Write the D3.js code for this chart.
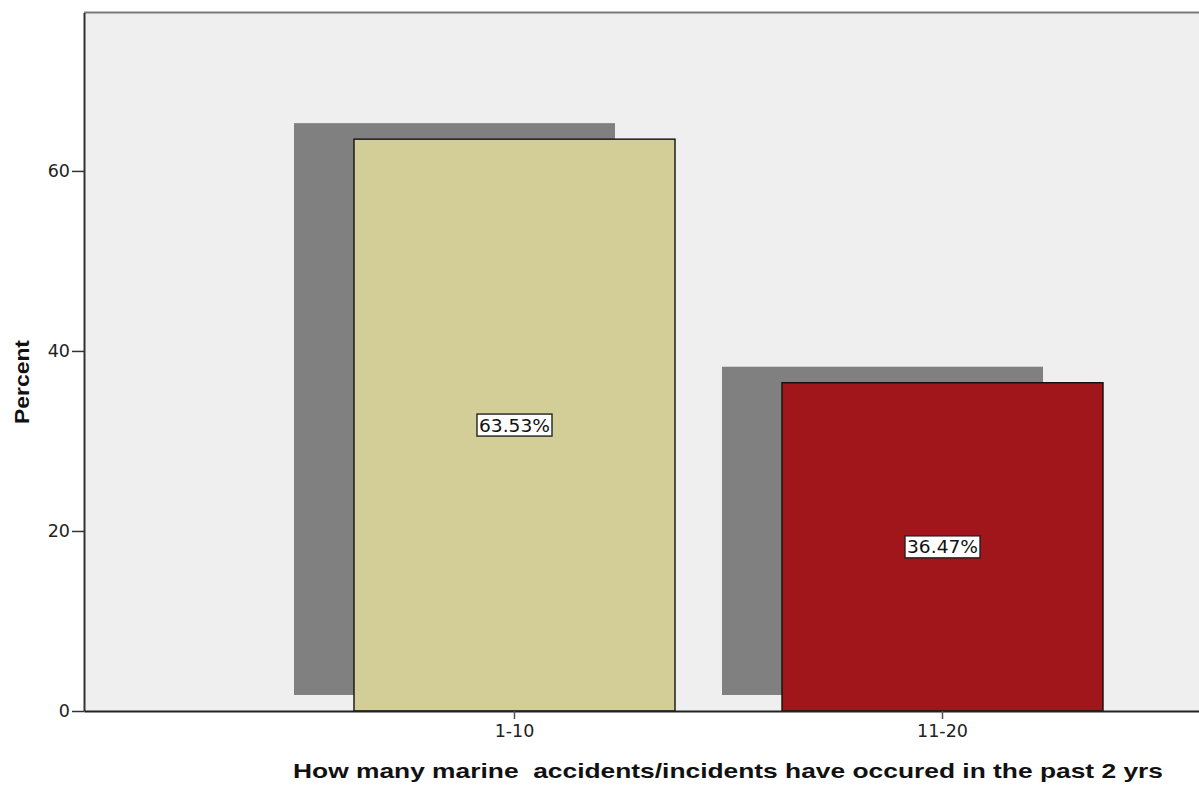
<!DOCTYPE html>
<html><head><meta charset="utf-8">
<script src="https://cdn.jsdelivr.net/npm/d3@7"></script>
<style>body{margin:0;background:#fff}svg{display:block}</style>
</head><body>
<script>
const categories = ["1-10", "11-20"];
const percents = [63.53, 36.47];
const yTicks = [0, 20, 40, 60];
const barColors = ["#D3CE97", "#A0161A"];
const xTitle = "How many marine  accidents/incidents have occured in the past 2 yrs";
const yTitle = "Percent";

(function () {
const W = 1199, H = 785;
const svg = d3.select("body").append("svg").attr("width", W).attr("height", H);
const mLeft = 84, mTop = 12.5, mBottom = 711, rightFull = 1373;

const x = d3.scaleBand().domain(categories).range([mLeft, rightFull]).paddingInner(0.25).paddingOuter(0.6308);
const y = d3.scaleLinear().domain([0, 77.6]).range([mBottom, mTop]);

svg.append("rect").attr("x", mLeft).attr("y", mTop).attr("width", rightFull - mLeft).attr("height", mBottom - mTop).attr("fill", "#EFEFEF");
svg.append("line").attr("x1", mLeft).attr("x2", W).attr("y1", mTop).attr("y2", mTop).attr("stroke", "#7a7a7a").attr("stroke-width", 2);

const data = categories.map((c, i) => ({c, v: percents[i], col: barColors[i]}));

svg.append("g").attr("transform", "translate(-60,-16)").selectAll("rect").data(data).join("rect")
  .attr("x", d => x(d.c)).attr("y", d => y(d.v)).attr("width", x.bandwidth()).attr("height", d => y(0) - y(d.v))
  .attr("fill", "#808080");

svg.append("g").selectAll("rect").data(data).join("rect")
  .attr("x", d => x(d.c)).attr("y", d => y(d.v)).attr("width", x.bandwidth()).attr("height", d => y(0) - y(d.v))
  .attr("fill", d => d.col).attr("stroke", "#111").attr("stroke-width", 1.4);

const yAxis = d3.axisLeft(y).tickValues(yTicks).tickSize(12).tickSizeOuter(0).tickPadding(2).tickFormat(d3.format("d"));
const gy = svg.append("g").attr("transform", `translate(${mLeft},0)`).call(yAxis);
gy.select(".domain").attr("stroke", "#333").attr("stroke-width", 2);
gy.selectAll(".tick line").attr("stroke", "#333").attr("stroke-width", 1.5);
gy.selectAll(".tick text").attr("font-family", "DejaVu Sans").attr("font-size", 17.5).attr("fill", "#222");

const xAxis = d3.axisBottom(x).tickSize(8).tickSizeOuter(0).tickPadding(6);
const gx = svg.append("g").attr("transform", `translate(0,${mBottom})`).call(xAxis);
gx.select(".domain").attr("stroke", "#222").attr("stroke-width", 2);
gx.selectAll(".tick line").attr("stroke", "#555").attr("stroke-width", 1.5);
gx.selectAll(".tick text").attr("font-family", "DejaVu Sans").attr("font-size", 17.5).attr("fill", "#222");

const lab = svg.append("g").selectAll("g").data(data).join("g")
  .attr("transform", d => `translate(${x(d.c) + x.bandwidth() / 2},${y(d.v / 2)})`);
lab.append("rect").attr("x", -37.5).attr("y", -11).attr("width", 75).attr("height", 22)
  .attr("fill", "#fff").attr("stroke", "#222").attr("stroke-width", 1.4);
lab.append("text").attr("text-anchor", "middle").attr("dy", "0.36em")
  .attr("font-family", "DejaVu Sans").attr("font-size", 18).attr("fill", "#111")
  .attr("textLength", 71).attr("lengthAdjust", "spacingAndGlyphs")
  .text(d => d.v.toFixed(2) + "%");

svg.append("text").attr("x", 728).attr("y", 778).attr("text-anchor", "middle")
  .style("white-space", "pre").attr("font-family", "Liberation Sans, Arial").attr("font-weight", "bold")
  .attr("font-size", 20.5).attr("fill", "#111")
  .attr("textLength", 870).attr("lengthAdjust", "spacingAndGlyphs").text(xTitle);
svg.append("text").attr("transform", "translate(29,382) rotate(-90)").attr("text-anchor", "middle")
  .attr("font-family", "Liberation Sans, Arial").attr("font-weight", "bold").attr("font-size", 20.5).attr("fill", "#111")
  .attr("textLength", 84).attr("lengthAdjust", "spacingAndGlyphs").text(yTitle);
})();
</script>
</body></html>
